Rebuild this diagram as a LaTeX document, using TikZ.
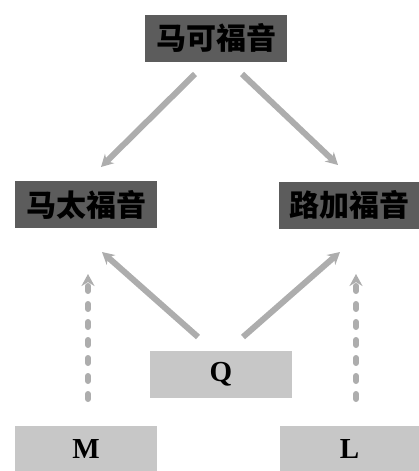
\documentclass[tikz,border=0pt]{standalone}
\usepackage{fontspec}
\setmainfont{Liberation Serif}
\newfontfamily\cjk{Noto Sans CJK SC}
\usetikzlibrary{arrows.meta}
\begin{document}
\begin{tikzpicture}[x=1pt,y=-1pt,
  darkbox/.style={draw=none,fill=black!64,minimum width=142pt,minimum height=47pt,inner sep=0pt,font=\cjk\bfseries\fontsize{30}{32}\selectfont,text=black},
  lightbox/.style={draw=none,fill=black!22,minimum width=142pt,minimum height=47pt,inner sep=0pt,font=\bfseries\fontsize{29}{30}\selectfont,text=black},
  arr/.style={draw=black!32,line width=6pt,-{Stealth[length=12pt,width=13pt]}},
  dotarr/.style={draw=black!32,line width=6pt,line cap=round,dash pattern=on 5pt off 13pt,-{Stealth[length=12pt,width=13pt]}}]
\useasboundingbox (0,0) rectangle (419,471);
\node[darkbox] (mk) at (216,38) {马可福音};
\node[darkbox] (mt) at (86,204.5) {马太福音};
\node[darkbox,minimum width=140pt] (lk) at (349,205) {路加福音};
\node[lightbox] (q) at (221,374) {Q};
\node[lightbox] (m) at (86,449) {M};
\node[lightbox,minimum width=139pt] (l) at (349.5,449) {L};
\coordinate (a1s) at (195,74);
\coordinate (a1e) at (101,167);
\coordinate (a2s) at (242,74);
\coordinate (a2e) at (338,165);
\coordinate (a3s) at (198,337);
\coordinate (a3e) at (102,252);
\coordinate (a4s) at (243,337);
\coordinate (a4e) at (340,252);
\coordinate (a5s) at (88,399);
\coordinate (a5e) at (88,274);
\coordinate (a6s) at (356,399);
\coordinate (a6e) at (356,274);
\draw[arr] (a1s) -- (a1e);
\draw[arr] (a2s) -- (a2e);
\draw[arr] (a3s) -- (a3e);
\draw[arr] (a4s) -- (a4e);
\draw[dotarr] (a5s) -- (a5e);
\draw[dotarr] (a6s) -- (a6e);
\end{tikzpicture}
\end{document}
